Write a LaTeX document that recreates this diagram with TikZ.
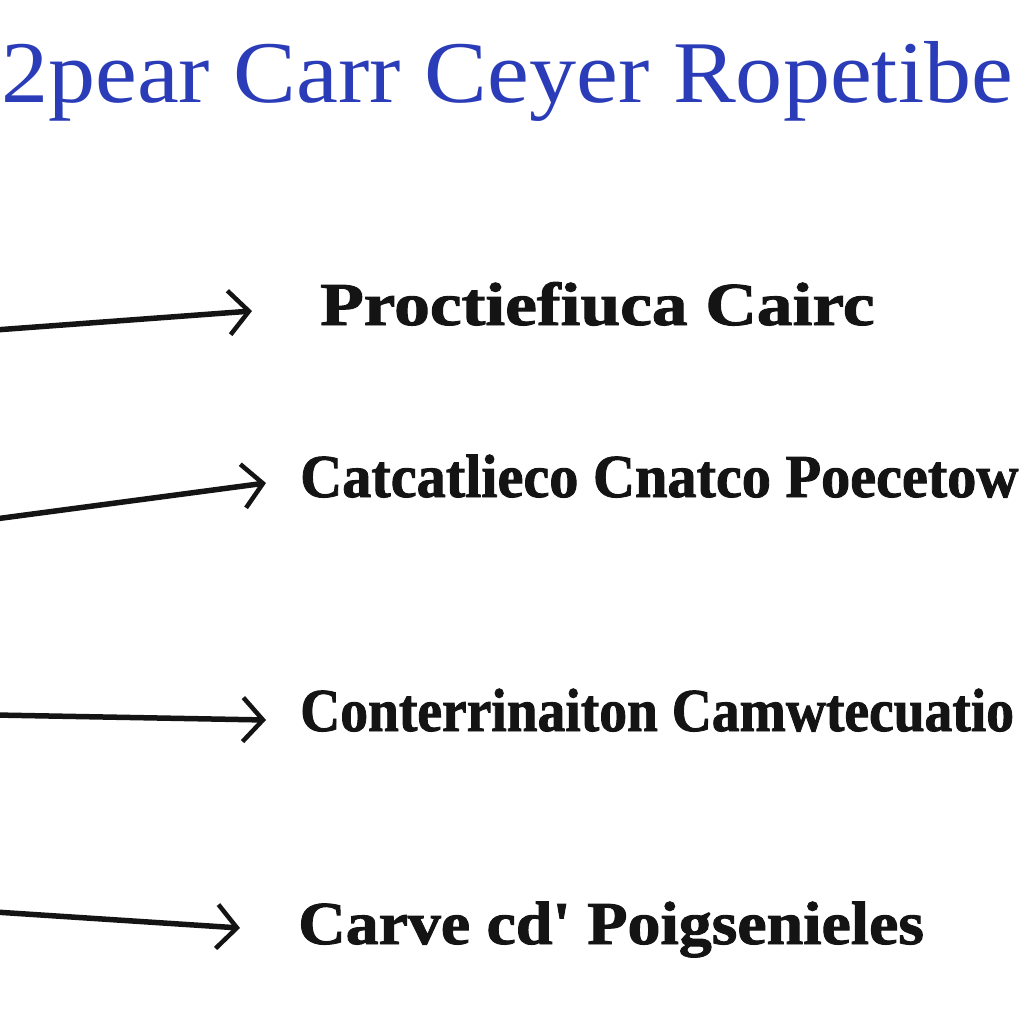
\documentclass[tikz,border=0pt]{standalone}
\usepackage{fontspec}
\setmainfont{Liberation Serif}
\newfontfamily\titlefont{Liberation Serif}
\newfontfamily\labelfont[BoldFeatures={FakeBold=1.5}]{Liberation Serif}
\usetikzlibrary{arrows.meta}
\definecolor{titleblue}{HTML}{2A3CB8}
\definecolor{ink}{HTML}{141414}
\tikzset{
  titletext/.style={anchor=base west, inner sep=0pt, text=titleblue, font=\titlefont\fontsize{88}{90}\selectfont},
  labeltext/.style={anchor=base west, inner sep=0pt, text=ink, font=\labelfont\bfseries\fontsize{61}{63}\selectfont},
  arr/.style={draw=ink, line width=5.5pt, line cap=round, -{Straight Barb[length=20pt,width=44pt,line width=4.5pt]}}
}
\begin{document}
\begin{tikzpicture}[x=1pt,y=-1pt]
\useasboundingbox (0,0) rectangle (1024,1024);
\clip (0,0) rectangle (1024,1024);
\fill[white] (0,0) rectangle (1024,1024);
\node[titletext] (title) at (1,103) {\scalebox{1.07}[1]{2pear Carr Ceyer Ropetibe}};
\node[labeltext] (l1) at (320,325) {\scalebox{1.17}[1]{Proctiefiuca Cairc}};
\node[labeltext] (l2) at (300,497) {\scalebox{0.955}[1]{Catcatlieco Cnatco Poecetow}};
\node[labeltext] (l3) at (300,731) {\scalebox{0.91}[1]{Conterrinaiton Camwtecuatio}};
\node[labeltext] (l4) at (298,944) {\scalebox{1.08}[1]{Carve cd' Poigsenieles}};
\coordinate (s1) at (-5,330); \coordinate (e1) at (252,311);
\coordinate (s2) at (-5,519); \coordinate (e2) at (266,483);
\coordinate (s3) at (-5,715); \coordinate (e3) at (266,720);
\coordinate (s4) at (-5,912); \coordinate (e4) at (240,928);
\draw[arr] (s1) -- (e1);
\draw[arr] (s2) -- (e2);
\draw[arr] (s3) -- (e3);
\draw[arr] (s4) -- (e4);
\end{tikzpicture}
\end{document}
